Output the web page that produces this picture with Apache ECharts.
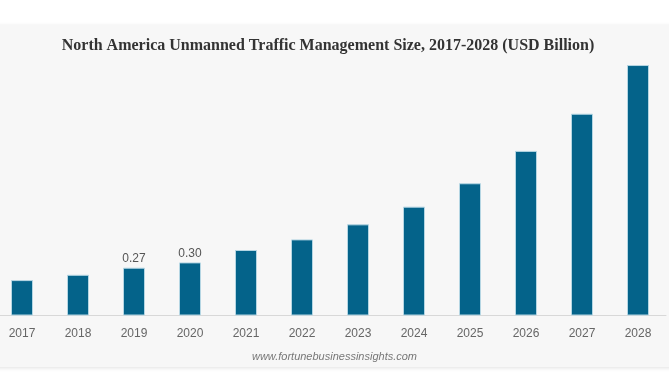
<!DOCTYPE html>
<html><head><meta charset="utf-8">
<script src="https://cdn.jsdelivr.net/npm/echarts@6/dist/echarts.min.js"></script>
<style>
html,body{margin:0;padding:0;background:#fff;width:669px;height:380px;overflow:hidden;position:relative;}
#card{position:absolute;left:-12px;right:-12px;top:25px;height:342px;background:#f7f7f7;box-shadow:0 1px 4px rgba(0,0,0,0.12);}
#chart{position:absolute;left:-20px;top:0;width:709px;height:380px;}
</style></head>
<body>
<div id="card"></div>
<div id="chart"></div>
<script>
const categories = ['2017','2018','2019','2020','2021','2022','2023','2024','2025','2026','2027','2028'];
const values = [0.20, 0.23, 0.27, 0.30, 0.37, 0.43, 0.515, 0.615, 0.747, 0.93, 1.14, 1.415];
const labelledYears = ['2019','2020'];
const titleText = 'North America Unmanned Traffic Management Size, 2017-2028 (USD Billion)';
const sourceText = 'www.fortunebusinessinsights.com';

const chart = echarts.init(document.getElementById('chart'), null, {renderer:'canvas'});
chart.setOption({
  backgroundColor: 'transparent',
  animation: false,
  graphic: [{
    type: 'text', x: 348, y: 46,
    style: {text: titleText, font: 'bold 16px "Liberation Serif", "Times New Roman", serif', fill: '#333', align: 'center', verticalAlign: 'middle'}
  }, {
    type: 'text', left: 'center', top: 351,
    style: {text: sourceText, font: 'italic 11px "Liberation Sans", Arial, sans-serif', fill: '#777'}
  }],
  grid: {left: 14, right: 23, top: 32.3, bottom: 64.5, containLabel: false},
  xAxis: {
    type: 'category', data: categories,
    axisLine: {lineStyle: {color: '#d8d8d8'}},
    axisTick: {show: false},
    axisLabel: {color: '#666', fontSize: 12, fontFamily: '"Liberation Sans", Arial, sans-serif', margin: 12}
  },
  yAxis: {type: 'value', min: 0, max: 1.6, show: false, splitLine: {show: false}},
  series: [{
    type: 'bar', barWidth: 22,
    data: values.map((v, i) => ({
      value: v,
      label: {show: labelledYears.includes(categories[i])}
    })),
    itemStyle: {color: '#04638a', borderColor: '#b5d6e3', borderWidth: 1},
    label: {
      position: 'top', distance: 3, color: '#555', fontSize: 12,
      fontFamily: '"Liberation Sans", Arial, sans-serif',
      formatter: p => p.value.toFixed(2)
    }
  }]
});
</script>
</body></html>
